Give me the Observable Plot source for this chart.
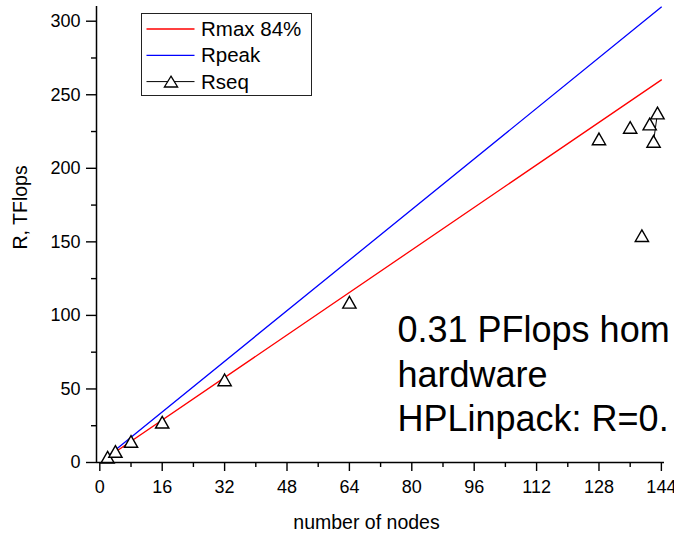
<!DOCTYPE html>
<html><head><meta charset="utf-8">
<script src="https://cdn.jsdelivr.net/npm/d3@7"></script>
<script src="https://cdn.jsdelivr.net/npm/@observablehq/plot@0.6"></script>
<style>
html,body{margin:0;padding:0;background:#fff;}
#chart{position:relative;width:674px;height:534px;font-family:"Liberation Sans",Arial,sans-serif;overflow:hidden;}
#legend{position:absolute;left:141px;top:13px;}
</style></head><body><div id="chart"></div>
<script>
// ---- data ----
const rseqNodes = [2, 4, 8, 16, 32, 64, 128, 136, 141, 143, 142, 139];
const rseqTF    = [3.6, 7.5, 14.3, 27.4, 56.2, 108.9, 220.0, 227.8, 230.1, 237.6, 218.3, 154.2];
const rseqRun   = ["a", "b", "c", "d", "e", "f", "g", "h", "i", "j", "j", "k"];
const lineNodes = [2, 144];
const rpeakTF   = [4.3, 309.6];
const rmaxTF    = [3.6, 260.1];
const xTicks = [0, 16, 32, 48, 64, 80, 96, 112, 128, 144];
const xMinorTicks = [8, 24, 40, 56, 72, 88, 104, 120, 136];
const yTicks = [0, 50, 100, 150, 200, 250, 300];
const yMinorTicks = [25, 75, 125, 175, 225, 275];
const seriesNames = ["Rmax 84%", "Rpeak", "Rseq"];
const seriesColors = ["#ff0000", "#0000ff", "#000000"];
const annotationLines = ["0.31 PFlops hom", "hardware", "HPLinpack: R=0."];
const xLabel = "number of nodes";
const yLabel = "R, TFlops";
const xDomain = [-0.85, 144.8];
const yDomain = [0, 310];

// ---- tables ----
const rseq = rseqNodes.map((n, i) => ({n, r: rseqTF[i], run: rseqRun[i]}));
const peak = lineNodes.map((n, i) => ({n, r: rpeakTF[i]}));
const rmax = lineNodes.map((n, i) => ({n, r: rmaxTF[i]}));

const triangle = {
  draw(ctx, size) {
    const r = Math.sqrt(size / Math.PI);
    const w = r * 1.33, h = r * 1.17;
    ctx.moveTo(0, -h); ctx.lineTo(w, h); ctx.lineTo(-w, h); ctx.closePath();
  }
};

const font = "'Liberation Sans', Arial, sans-serif";

const plot = Plot.plot({
  width: 674, height: 534,
  marginLeft: 96, marginRight: 10, marginTop: 6, marginBottom: 72,
  style: {fontFamily: font, fontSize: "18px", background: "white", color: "black", overflow: "visible"},
  x: {domain: xDomain},
  y: {domain: yDomain},
  marks: [
    Plot.line(rmax, {x: "n", y: "r", stroke: seriesColors[0], strokeWidth: 1.3}),
    Plot.line(peak, {x: "n", y: "r", stroke: seriesColors[1], strokeWidth: 1.3}),
    Plot.line(rseq, {x: "n", y: "r", z: "run", stroke: "black", strokeWidth: 1}),
    Plot.dot(rseq, {x: "n", y: "r", symbol: triangle, r: 5, fill: "white", stroke: "black", strokeWidth: 1.4}),
    Plot.ruleX([xDomain[0]], {stroke: "black", strokeWidth: 1.5}),
    Plot.ruleY([yDomain[0]], {stroke: "black", strokeWidth: 1.5}),
    Plot.axisX({ticks: xTicks, tickSize: 9, tickPadding: 9, label: null, fontSize: 18, strokeWidth: 1.4}),
    Plot.axisX({ticks: xMinorTicks, tickSize: 5, tickFormat: () => "", label: null, strokeWidth: 1.4}),
    Plot.axisY({ticks: yTicks, tickSize: 10, tickPadding: 6, label: null, fontSize: 18, strokeWidth: 1.4}),
    Plot.axisY({ticks: yMinorTicks, tickSize: 5, tickFormat: () => "", label: null, strokeWidth: 1.4}),
    Plot.text([xLabel], {text: d => d, frameAnchor: "bottom", dx: -14, dy: 60, lineAnchor: "middle", fontSize: 19.5}),
    Plot.text([yLabel], {text: d => d, frameAnchor: "left", rotate: -90, dx: -75.4, dy: 15, lineAnchor: "middle", fontSize: 19.5}),
    Plot.text([annotationLines.join("\n")], {text: d => d, frameAnchor: "top-left", textAnchor: "start", lineAnchor: "top", lineHeight: 1.24, dx: 301, dy: 304, fontSize: 36})
  ]
});
document.getElementById("chart").appendChild(plot);

// ---- legend (inside plot area, top-left) ----
const lg = d3.select("#chart").append("svg").attr("id", "legend")
  .attr("width", 171).attr("height", 83)
  .style("font-family", font);
lg.append("rect").attr("x", 0.5).attr("y", 0.5).attr("width", 170).attr("height", 82)
  .attr("fill", "white").attr("stroke", "#222").attr("stroke-width", 1);
seriesNames.forEach((name, i) => {
  const cy = 16 + i * 26.3;
  lg.append("line").attr("x1", 5.5).attr("x2", 53.5).attr("y1", cy).attr("y2", cy)
    .attr("stroke", seriesColors[i]).attr("stroke-width", i === 2 ? 1 : 1.3);
  if (i === 2) {
    const w = 6.6, h = 5.4;
    lg.append("path").attr("d", `M30,${cy - h}L${30 + w},${cy + h}L${30 - w},${cy + h}Z`)
      .attr("fill", "white").attr("stroke", "black").attr("stroke-width", 1.3);
  }
  lg.append("text").attr("x", 60).attr("y", cy + 7).attr("font-size", 20.5).attr("fill", "black").text(name);
});
</script></body></html>
